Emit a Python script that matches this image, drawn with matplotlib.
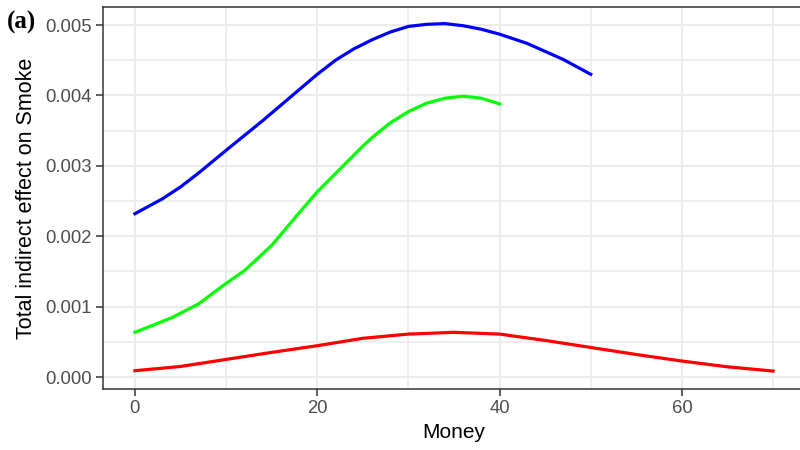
import matplotlib
matplotlib.use("Agg")
import matplotlib.pyplot as plt
from matplotlib.ticker import MultipleLocator, FormatStrFormatter

# indirect effect curves, one per group
blue_x = [0, 3, 5, 7, 10, 14, 18, 20, 22, 24, 26, 28, 30, 32, 34, 36, 38, 40, 43, 47, 50]
blue_y = [0.00232, 0.00253, 0.00270, 0.00290, 0.00322, 0.00364, 0.00408, 0.00430,
          0.00450, 0.00466, 0.00479, 0.00490, 0.00498, 0.00501, 0.00502, 0.00499,
          0.00494, 0.00487, 0.00474, 0.00451, 0.00430]

green_x = [0, 4, 7, 10, 12, 15, 18, 20, 23, 25, 26, 28, 30, 32, 34, 36, 38, 40]
green_y = [0.000635, 0.00084, 0.00104, 0.00133, 0.00151, 0.00187, 0.00233, 0.00263,
           0.00302, 0.00328, 0.00340, 0.00361, 0.00377, 0.00389, 0.00396, 0.00399,
           0.00396, 0.00388]

red_x = [0, 5, 10, 15, 20, 25, 30, 35, 40, 45, 50, 55, 60, 65, 70]
red_y = [0.00009, 0.00015, 0.00025, 0.00035, 0.000445, 0.00055, 0.00061, 0.000635,
         0.00061, 0.00052, 0.00042, 0.00032, 0.000227, 0.000145, 0.000085]

x_label = "Money"
y_label = "Total indirect effect on Smoke"
panel_tag = "(a)"

plt.rcParams['font.family'] = ['Liberation Sans', 'DejaVu Sans']

fig = plt.figure(figsize=(8, 4.5), dpi=100)
ax = fig.add_axes([103 / 800, 1 - 389 / 450, 702 / 800, 382 / 450])

ax.plot(blue_x, blue_y, color='#0000FF', lw=2.3, zorder=3)
ax.plot(green_x, green_y, color='#00FF00', lw=2.3, zorder=3)
ax.plot(red_x, red_y, color='#FF0000', lw=2.3, zorder=3)

ax.set_xlim(-3.5, 73.5)
ax.set_ylim(-0.00017, 0.005256)

ax.xaxis.set_major_locator(MultipleLocator(20))
ax.xaxis.set_minor_locator(MultipleLocator(10))
ax.yaxis.set_major_locator(MultipleLocator(0.001))
ax.yaxis.set_minor_locator(MultipleLocator(0.0005))
ax.yaxis.set_major_formatter(FormatStrFormatter('%.3f'))

ax.grid(which='major', color='#EBEBEB', lw=1.5, zorder=0)
ax.grid(which='minor', color='#EBEBEB', lw=1.2, zorder=0)
ax.set_axisbelow(True)

for side in ['top', 'bottom', 'left']:
    ax.spines[side].set_color('#333333')
    ax.spines[side].set_linewidth(1.1)
ax.spines['right'].set_visible(False)

ax.tick_params(which='major', length=5, width=1.1, color='#333333',
               labelsize=13.3, labelcolor='#4D4D4D', pad=3)
ax.tick_params(which='minor', length=0)

ax.set_xlabel(x_label, fontsize=15, color='black', labelpad=4)
ax.set_ylabel(y_label, fontsize=15.5, color='black', labelpad=6)

fig.text(7 / 800, 1 - 22 / 450, panel_tag, fontsize=18, fontweight='bold',
         family='Liberation Serif', va='center', ha='left')

fig.savefig('out.png', dpi=100)
